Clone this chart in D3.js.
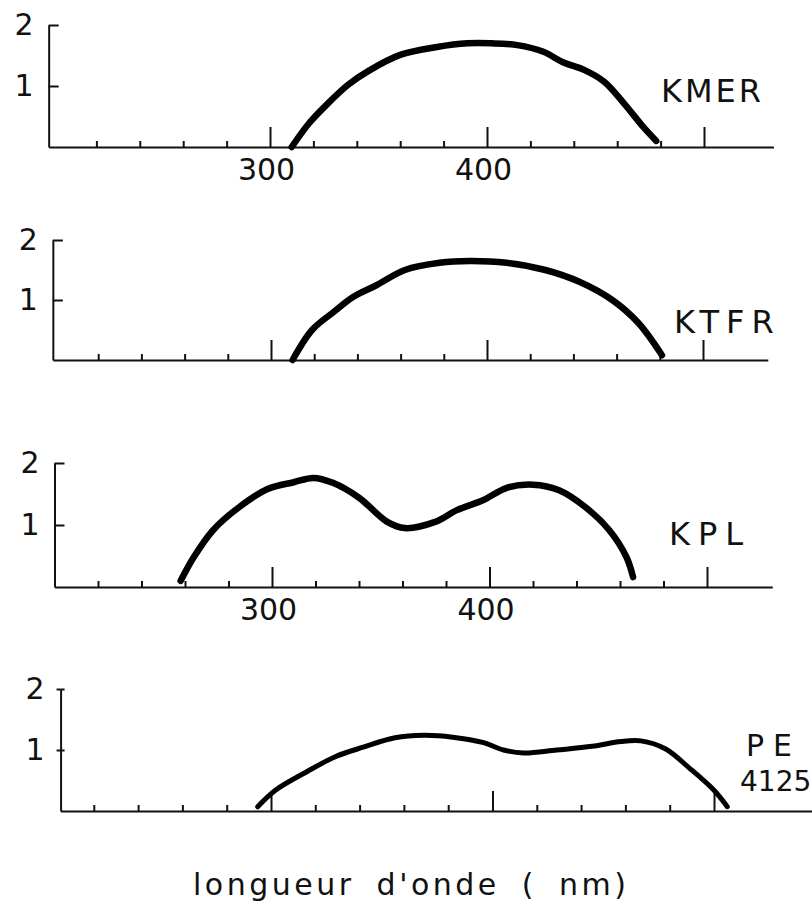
<!DOCTYPE html>
<html>
<head>
<meta charset="utf-8">
<script src="https://cdn.jsdelivr.net/npm/d3@7"></script>
<style>
body { margin:0; background:#fff; }
</style>
</head>
<body>
<svg id="chart" width="812" height="905"></svg>
<script>
// valeurs : longueur d'onde (nm) / absorbance
var kmerNm  = [310, 318, 326, 336, 346, 360, 377, 391, 402, 414, 426, 435, 445, 454, 463, 472, 478];
var kmerAbs = [0, 0.39, 0.69, 1.02, 1.26, 1.51, 1.64, 1.70, 1.70, 1.67, 1.56, 1.39, 1.26, 1.07, 0.72, 0.33, 0.10];

var ktfrNm  = [310, 319, 329, 338, 349, 362, 378, 392, 409, 427, 443, 458, 470, 481];
var ktfrAbs = [0, 0.50, 0.80, 1.05, 1.25, 1.50, 1.62, 1.65, 1.62, 1.50, 1.30, 1.00, 0.62, 0.08];

var kplNm  = [258, 264, 273, 285, 298, 310, 319, 328, 340, 353, 361, 375, 385, 397, 408, 420, 432, 444, 455, 463, 466];
var kplAbs = [0.10, 0.48, 0.92, 1.29, 1.58, 1.69, 1.76, 1.68, 1.44, 1.05, 0.95, 1.05, 1.24, 1.40, 1.60, 1.65, 1.56, 1.29, 0.92, 0.48, 0.16];

var peNm  = [294, 302, 316, 329, 342, 356, 369, 382, 396, 405, 414, 429, 445, 458, 467, 478, 489, 500, 506];
var peAbs = [0.07, 0.34, 0.64, 0.89, 1.05, 1.20, 1.24, 1.21, 1.12, 1.00, 0.95, 1.00, 1.06, 1.14, 1.15, 1.02, 0.70, 0.34, 0.07];

var yTicks = [1, 2];
var majorTicks = [300, 400, 500];
var minorTicks = [220, 240, 260, 280, 320, 340, 360, 380, 420, 440, 460, 480];
var tickLabels = [300, 400];
var xTitle = "longueur d'onde ( nm)";

// mise en page de chaque graphe (pixels)
var panels = [
  {name:["KMER"], nm:kmerNm, abs:kmerAbs, x300:270, x500:704, y0:147, y2:25, lo:198, hi:532,
   labels:true, nameX:661, nameY:102, ls:3, width:6.5, cross:false},
  {name:["KTFR"], nm:ktfrNm, abs:ktfrAbs, x300:271, x500:703, y0:360, y2:240, lo:199, hi:530,
   labels:false, nameX:674, nameY:333, ls:7, width:6.5, cross:false},
  {name:["KPL"], nm:kplNm, abs:kplAbs, x300:272, x500:707, y0:587, y2:463, lo:200, hi:530,
   labels:true, nameX:669, nameY:545, ls:8, width:6.5, cross:false},
  {name:["PE", "4125"], nm:peNm, abs:peAbs, x300:271, x500:714, y0:811, y2:689, lo:205, hi:545,
   labels:false, nameX:746, nameY:756, ls:9, width:5, cross:true}
];

var font = "DejaVu Sans, sans-serif";
var svg = d3.select("#chart");

panels.forEach(function(p){
  var x = d3.scaleLinear().domain([300, 500]).range([p.x300, p.x500]);
  var y = d3.scaleLinear().domain([0, 2]).range([p.y0, p.y2]);
  var xAxisScale = x.copy().domain([p.lo, p.hi]).range([x(p.lo), x(p.hi)]);
  var x0 = x(p.lo);

  var g = svg.append("g");

  // petites graduations
  g.append("g")
   .attr("transform", "translate(0," + p.y0 + ")")
   .call(d3.axisBottom(xAxisScale).tickValues(minorTicks).tickSize(-6).tickSizeOuter(0).tickFormat(""))
   .call(function(a){ a.selectAll("line,path").attr("stroke", "#111").attr("stroke-width", 2); });

  // grandes graduations + etiquettes
  g.append("g")
   .attr("transform", "translate(0," + p.y0 + ")")
   .call(d3.axisBottom(xAxisScale).tickValues(majorTicks).tickSize(-20).tickSizeOuter(0).tickPadding(12)
        .tickFormat(function(d){ return (p.labels && tickLabels.indexOf(d) >= 0) ? d : ""; }))
   .call(function(a){
      a.select(".domain").remove();
      a.selectAll("line").attr("stroke", "#111").attr("stroke-width", 2);
      a.selectAll("text").attr("font-family", font).attr("font-size", "30px").attr("fill", "#111").attr("dx", "-4");
   });

  // axe vertical
  g.append("g")
   .attr("transform", "translate(" + x0 + ",0)")
   .call(d3.axisLeft(y).tickValues(yTicks).tickFormat(d3.format("d"))
        .tickSize(p.cross ? 4 : -10).tickSizeOuter(0).tickPadding(p.cross ? 12 : 15))
   .call(function(a){
      a.selectAll("line,path").attr("stroke", "#111").attr("stroke-width", 2);
      a.selectAll("text").attr("font-family", font).attr("font-size", "30px").attr("fill", "#111");
   });
  if (p.cross) {
    g.append("g")
     .attr("transform", "translate(" + x0 + ",0)")
     .call(d3.axisRight(y).tickValues(yTicks).tickSize(4).tickSizeOuter(0).tickFormat(""))
     .call(function(a){
        a.select(".domain").remove();
        a.selectAll("line").attr("stroke", "#111").attr("stroke-width", 2);
     });
  }

  // courbe
  var pts = p.nm.map(function(d, i){ return [d, p.abs[i]]; });
  g.append("path")
   .datum(pts)
   .attr("fill", "none")
   .attr("stroke", "#000")
   .attr("stroke-width", p.width)
   .attr("stroke-linecap", "round")
   .attr("stroke-linejoin", "round")
   .attr("d", d3.line()
      .x(function(d){ return x(d[0]); })
      .y(function(d){ return y(d[1]); })
      .curve(d3.curveCatmullRom));

  // nom de l'echantillon
  p.name.forEach(function(n, i){
    g.append("text")
     .attr("x", p.nameX - (i * 6))
     .attr("y", p.nameY + i * 35)
     .attr("font-family", font)
     .attr("font-size", i == 0 ? (p.cross ? "30px" : "32px") : "28px")
     .attr("letter-spacing", i == 0 ? p.ls + "px" : "0px")
     .attr("fill", "#111")
     .text(n);
  });
});

svg.append("text")
   .attr("x", 193)
   .attr("y", 895)
   .attr("font-family", font)
   .attr("font-size", "30px")
   .attr("letter-spacing", "3.5px")
   .attr("word-spacing", "9px")
   .attr("fill", "#111")
   .text(xTitle);
</script>
</body>
</html>
